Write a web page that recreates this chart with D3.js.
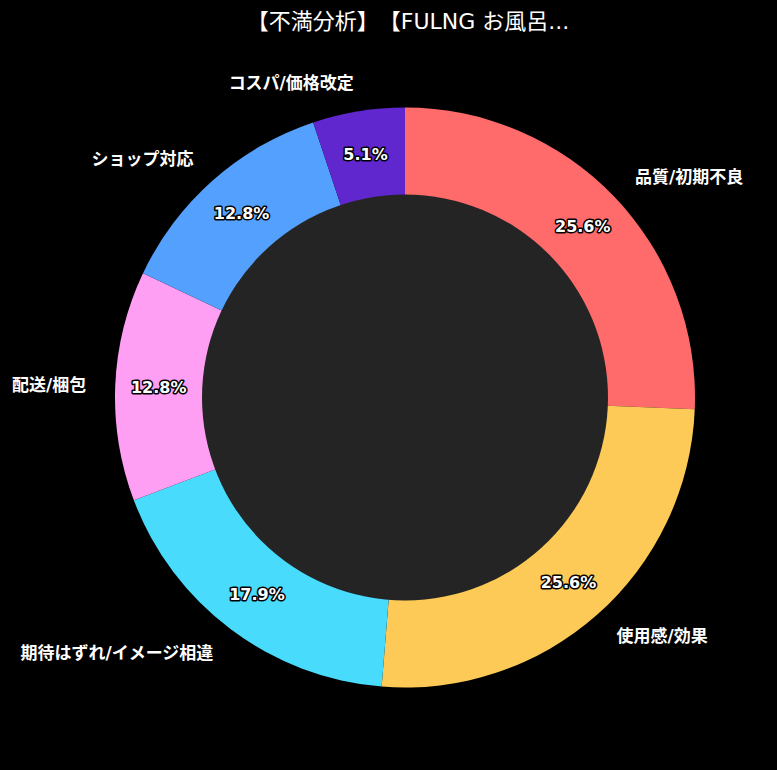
<!DOCTYPE html>
<html>
<head>
<meta charset="utf-8">
<script src="https://cdn.jsdelivr.net/npm/d3@7"></script>
<style>
  body { margin: 0; background: #000; }
  svg { display: block; }
  text { text-spacing-trim: space-all; }
</style>
</head>
<body>
<div id="visual"></div>
<script>
const categories = ["品質/初期不良", "使用感/効果", "期待はずれ/イメージ相違", "配送/梱包", "ショップ対応", "コスパ/価格改定"];
const counts = [10, 10, 7, 5, 5, 2];
const colors = ["#FF6B6B", "#FECA57", "#48DBFB", "#FF9FF3", "#54A0FF", "#5F27CD"];
const title = "【不満分析】【FULNG お風呂...";

const width = 777, height = 770;
const cx = 405, cy = 397.5;
const radius = 290;

const svg = d3.select("#visual")
  .append("svg")
  .attr("width", width)
  .attr("height", height)
  .style("background", "#000");

svg.append("text")
  .attr("x", 408)
  .attr("y", 21)
  .attr("text-anchor", "middle")
  .attr("dominant-baseline", "central")
  .attr("fill", "#fff")
  .style("font-family", "'DejaVu Sans', 'Noto Sans CJK JP'")
  .style("font-size", "22px")
  .text(title);

const total = d3.sum(counts);
const data = categories.map((c, i) => ({ name: c, value: counts[i], color: colors[i] }));

const pie = d3.pie()
  .value(d => d.value)
  .sort(null);

const arcs = pie(data);
const arc = d3.arc().innerRadius(0).outerRadius(radius);

const g = svg.append("g")
  .attr("transform", `translate(${cx},${cy})`);

g.selectAll("path.slice")
  .data(arcs)
  .enter()
  .append("path")
  .attr("class", "slice")
  .attr("d", arc)
  .attr("fill", d => d.data.color);

// donut hole
g.append("circle")
  .attr("r", radius * 0.7)
  .attr("fill", "#242424");

const mid = d => (d.startAngle + d.endAngle) / 2;

// outer labels
g.selectAll("text.label")
  .data(arcs)
  .enter()
  .append("text")
  .attr("class", "label")
  .attr("x", d => Math.sin(mid(d)) * radius * 1.1)
  .attr("y", d => -Math.cos(mid(d)) * radius * 1.1)
  .attr("text-anchor", d => Math.sin(mid(d)) >= 0 ? "start" : "end")
  .attr("dominant-baseline", "central")
  .attr("fill", "#fff")
  .style("font-family", "'DejaVu Sans', 'Noto Sans CJK JP'")
  .style("font-weight", "bold")
  .style("font-size", "17px")
  .text(d => d.data.name);

// percent labels
g.selectAll("text.pct")
  .data(arcs)
  .enter()
  .append("text")
  .attr("class", "pct")
  .attr("x", d => Math.sin(mid(d)) * radius * 0.85)
  .attr("y", d => -Math.cos(mid(d)) * radius * 0.85)
  .attr("text-anchor", "middle")
  .attr("dominant-baseline", "central")
  .attr("fill", "#fff")
  .attr("stroke", "#000")
  .attr("stroke-width", 3)
  .attr("stroke-linejoin", "round")
  .attr("paint-order", "stroke")
  .style("font-family", "'DejaVu Sans', 'Noto Sans CJK JP'")
  .style("font-weight", "bold")
  .style("font-size", "16px")
  .text(d => (d.data.value / total * 100).toFixed(1) + "%");
</script>
</body>
</html>
